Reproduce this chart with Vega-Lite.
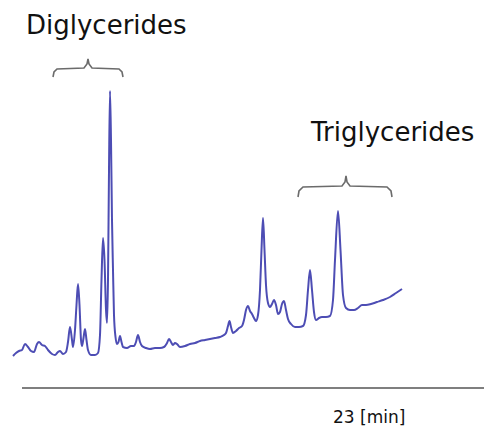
{
  "$schema": "https://vega.github.io/schema/vega-lite/v6.json",
  "autosize": {"type": "fit", "contains": "padding"},
  "width": 486,
  "height": 430,
  "padding": 0,
  "background": "white",
  "config": {"view": {"stroke": null}},
  "datasets": {
    "trace": [
      {"t":13,"s":74},{"t":16,"s":77},{"t":19,"s":79},{"t":22,"s":80},{"t":25,"s":86},{"t":28,"s":83},{"t":31,"s":79},{"t":34,"s":78},{"t":37,"s":86},{"t":39,"s":88},{"t":42,"s":85},{"t":45,"s":84},{"t":48,"s":80},{"t":52,"s":76},{"t":55,"s":75},{"t":58,"s":78},{"t":60,"s":79},{"t":63,"s":76},{"t":66,"s":78},{"t":68,"s":88},{"t":70,"s":103},{"t":72,"s":90},{"t":73,"s":83},{"t":75,"s":100},{"t":76.5,"s":125},{"t":78,"s":146},{"t":79.5,"s":125},{"t":81,"s":90},{"t":82,"s":84},{"t":83.5,"s":92},{"t":85,"s":101},{"t":86.5,"s":90},{"t":88,"s":80},{"t":91,"s":75},{"t":95,"s":75},{"t":98,"s":77},{"t":100,"s":95},{"t":101.5,"s":150},{"t":103,"s":192},{"t":104.5,"s":170},{"t":106,"s":120},{"t":107,"s":107},{"t":108,"s":150},{"t":109,"s":260},{"t":110,"s":339},{"t":111,"s":290},{"t":112,"s":210},{"t":113,"s":160},{"t":114,"s":115},{"t":115.5,"s":93},{"t":117,"s":86},{"t":118.5,"s":88},{"t":120,"s":94},{"t":121.5,"s":88},{"t":123,"s":83},{"t":127,"s":82},{"t":131,"s":84},{"t":134,"s":84},{"t":136,"s":88},{"t":138,"s":95},{"t":140,"s":88},{"t":142,"s":84},{"t":146,"s":82},{"t":150,"s":81},{"t":155,"s":82},{"t":160,"s":82},{"t":164,"s":83},{"t":167,"s":87},{"t":169,"s":91},{"t":171,"s":88},{"t":173,"s":85},{"t":175,"s":87},{"t":177,"s":86},{"t":180,"s":83},{"t":185,"s":84},{"t":190,"s":86},{"t":195,"s":87},{"t":200,"s":89},{"t":205,"s":90},{"t":210,"s":91},{"t":215,"s":92},{"t":220,"s":93},{"t":224,"s":95},{"t":226,"s":97},{"t":228,"s":104},{"t":229.5,"s":109},{"t":231,"s":103},{"t":233,"s":97},{"t":236,"s":99},{"t":239,"s":102},{"t":242,"s":104},{"t":244,"s":110},{"t":246,"s":120},{"t":248,"s":124},{"t":250,"s":119},{"t":252,"s":116},{"t":254,"s":112},{"t":256,"s":109},{"t":258,"s":115},{"t":260,"s":140},{"t":261.5,"s":180},{"t":263,"s":212},{"t":264.5,"s":180},{"t":266,"s":145},{"t":268,"s":127},{"t":270,"s":123},{"t":272,"s":126},{"t":274,"s":130},{"t":276,"s":125},{"t":278,"s":116},{"t":280,"s":118},{"t":282,"s":126},{"t":284,"s":129},{"t":286,"s":120},{"t":288,"s":111},{"t":291,"s":106},{"t":295,"s":103},{"t":299,"s":103},{"t":303,"s":104},{"t":306,"s":115},{"t":308,"s":140},{"t":310,"s":160},{"t":312,"s":140},{"t":314,"s":118},{"t":316,"s":110},{"t":319,"s":112},{"t":322,"s":113},{"t":326,"s":113},{"t":330,"s":114},{"t":333,"s":130},{"t":335,"s":170},{"t":338,"s":219},{"t":340.5,"s":180},{"t":343,"s":135},{"t":346,"s":122},{"t":350,"s":120},{"t":354,"s":120},{"t":358,"s":122},{"t":362,"s":125},{"t":366,"s":125},{"t":371,"s":126},{"t":377,"s":128},{"t":383,"s":130},{"t":390,"s":133},{"t":396,"s":137},{"t":402,"s":141}
    ],
    "braces": [
      {"b":"di","t":53,"s":353},{"b":"di","t":54,"s":358},{"b":"di","t":57,"s":361},{"b":"di","t":84,"s":362},{"b":"di","t":87,"s":366},{"b":"di","t":88,"s":371},{"b":"di","t":89,"s":366},{"b":"di","t":92,"s":362},{"b":"di","t":119,"s":361},{"b":"di","t":122,"s":358},{"b":"di","t":123,"s":353},
      {"b":"tri","t":298,"s":233},{"b":"tri","t":299,"s":239},{"b":"tri","t":303,"s":243},{"b":"tri","t":342,"s":244},{"b":"tri","t":345,"s":248},{"b":"tri","t":346,"s":254},{"b":"tri","t":347,"s":248},{"b":"tri","t":350,"s":244},{"b":"tri","t":387,"s":243},{"b":"tri","t":391,"s":239},{"b":"tri","t":392,"s":233}
    ],
    "axisline": [{"t":22,"t2":484,"s":42}],
    "labels": [
      {"t":26,"s":396,"label":"Diglycerides","size":26},
      {"t":311,"s":289,"label":"Triglycerides","size":26},
      {"t":333,"s":7,"label":"23 [min]","size":17}
    ]
  },
  "layer": [
    {
      "data": {"name": "axisline"},
      "mark": {"type": "rule", "color": "#555555", "strokeWidth": 1.5},
      "encoding": {
        "x": {"field": "t", "type": "quantitative", "scale": {"domain": [0, 486]}, "axis": null},
        "x2": {"field": "t2"},
        "y": {"field": "s", "type": "quantitative", "scale": {"domain": [0, 430]}, "axis": null}
      }
    },
    {
      "data": {"name": "braces"},
      "mark": {"type": "line", "color": "#6b6b6b", "strokeWidth": 1.6},
      "encoding": {
        "x": {"field": "t", "type": "quantitative", "scale": {"domain": [0, 486]}, "axis": null},
        "y": {"field": "s", "type": "quantitative", "scale": {"domain": [0, 430]}, "axis": null},
        "detail": {"field": "b"}
      }
    },
    {
      "data": {"name": "trace"},
      "mark": {"type": "line", "color": "#4d4db4", "strokeWidth": 2, "strokeJoin": "round", "interpolate": "monotone"},
      "encoding": {
        "x": {"field": "t", "type": "quantitative", "scale": {"domain": [0, 486]}, "axis": null},
        "y": {"field": "s", "type": "quantitative", "scale": {"domain": [0, 430]}, "axis": null}
      }
    },
    {
      "data": {"name": "labels"},
      "mark": {"type": "text", "align": "left", "baseline": "alphabetic", "font": "DejaVu Sans", "color": "#111111"},
      "encoding": {
        "x": {"field": "t", "type": "quantitative", "scale": {"domain": [0, 486]}, "axis": null},
        "y": {"field": "s", "type": "quantitative", "scale": {"domain": [0, 430]}, "axis": null},
        "text": {"field": "label"},
        "size": {"field": "size", "type": "quantitative", "scale": null, "legend": null}
      }
    }
  ]
}
